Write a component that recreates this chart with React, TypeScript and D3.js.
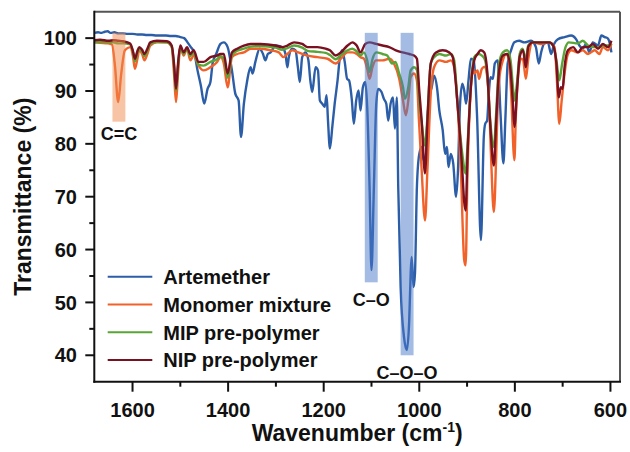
import React from 'react';
import * as d3 from 'd3';

// ---------- data ----------
const seriesNames = ['Artemether', 'Monomer mixture', 'MIP pre-polymer', 'NIP pre-polymer'];
const seriesColors = ['#2c5ea8', '#f0622a', '#5aa537', '#7a1020'];

const artemether: [number, number][] = [
  [1680,101.0],[1672,101.1],[1665,101.0],[1658,101.2],[1652,101.3],[1646,101.0],[1638,101.1],[1630,100.9],[1620,100.9],[1610,100.8],[1600,100.8],[1590,100.7],[1580,100.7],[1570,100.6],[1560,100.6],[1550,100.5],[1540,100.5],[1530,100.5],[1520,100.4],[1510,100.4],[1500,100.2],[1492,100.0],[1485,99.2],[1478,98.3],[1471,97.3],[1464,93.9],[1457,91.0],[1450,87.6],[1443,90.4],[1437,91.7],[1432,95.5],[1425,97.0],[1416,98.9],[1409,99.2],[1401,98.3],[1392,93.9],[1385,89.5],[1378,88.2],[1373,81.3],[1367,87.6],[1360,92.0],[1353,94.5],[1349,93.3],[1343,95.5],[1334,98.0],[1327,97.0],[1322,95.8],[1317,97.0],[1311,97.3],[1301,98.6],[1287,98.3],[1280,97.0],[1276,94.5],[1273,96.4],[1266,98.0],[1259,97.7],[1254,94.5],[1250,91.7],[1245,96.4],[1238,97.3],[1232,95.8],[1228,92.0],[1224,89.8],[1217,94.5],[1212,93.9],[1208,88.2],[1203,87.6],[1198,87.0],[1194,89.2],[1191,84.4],[1187,79.1],[1182,83.2],[1177,87.6],[1171,92.0],[1166,96.4],[1161,97.7],[1156,95.5],[1151,92.3],[1147,92.0],[1141,88.2],[1137,83.8],[1132,88.2],[1127,90.1],[1123,86.3],[1118,90.7],[1113,91.7],[1109,87.0],[1104,71.8],[1100,56.1],[1095,71.8],[1090,87.6],[1086,90.4],[1079,89.8],[1074,88.5],[1069,87.6],[1065,84.4],[1060,87.6],[1055,88.8],[1051,82.9],[1047,88.8],[1044,71.8],[1039,52.9],[1032,43.5],[1026,41.0],[1021,46.7],[1018,55.5],[1016,58.6],[1012,52.9],[1009,55.5],[1005,71.8],[1000,78.1],[995,79.4],[991,76.9],[986,78.1],[983,84.4],[979,88.8],[974,90.7],[969,92.9],[963,90.7],[958,86.3],[951,82.6],[946,78.1],[942,79.4],[939,75.6],[934,78.1],[929,76.3],[923,70.0],[919,75.0],[915,87.0],[910,91.4],[906,90.1],[902,87.6],[897,92.0],[892,96.1],[886,95.8],[879,85.0],[871,61.8],[865,81.3],[862,83.8],[858,84.4],[855,88.8],[851,92.6],[846,92.3],[842,95.2],[836,95.8],[830,85.7],[824,76.3],[820,84.4],[815,95.2],[808,97.7],[801,99.2],[791,99.5],[780,99.2],[766,99.5],[756,98.3],[750,95.2],[745,97.3],[739,98.9],[731,99.2],[724,97.0],[718,98.9],[710,99.8],[696,100.2],[682,100.5],[672,99.8],[665,98.6],[658,98.0],[651,98.9],[644,97.3],[637,99.2],[626,98.6],[619,100.5],[612,100.2],[606,100.0],[601,98.9],[598,97.3]
];

const monomer: [number, number][] = [
  [1680,99.2],[1668,99.1],[1651,99.0],[1643,98.8],[1637,95.0],[1630,87.9],[1624,93.0],[1616,97.7],[1605,98.3],[1599,96.5],[1595,94.2],[1590,96.0],[1586,97.7],[1580,97.0],[1575,95.8],[1569,97.0],[1563,98.6],[1549,99.2],[1528,99.2],[1518,98.3],[1513,93.0],[1509,87.9],[1505,93.0],[1500,98.3],[1493,96.7],[1486,98.0],[1479,95.8],[1472,96.7],[1462,94.8],[1451,93.9],[1437,94.5],[1423,95.5],[1416,96.4],[1409,95.2],[1401,90.7],[1392,96.4],[1381,97.0],[1367,97.3],[1353,98.0],[1332,98.0],[1311,97.7],[1294,97.3],[1284,96.4],[1276,97.0],[1266,97.7],[1253,97.3],[1234,96.7],[1213,96.4],[1192,96.1],[1175,95.2],[1164,96.1],[1150,97.3],[1140,97.3],[1131,97.0],[1123,96.4],[1116,96.1],[1109,94.2],[1104,92.3],[1098,94.5],[1091,95.8],[1077,95.8],[1063,96.1],[1053,95.2],[1042,92.3],[1034,88.2],[1028,85.4],[1023,88.2],[1018,92.6],[1011,93.3],[1005,92.0],[1001,85.0],[995,75.0],[988,65.5],[983,75.0],[976,89.5],[969,94.5],[958,95.8],[944,95.5],[934,95.8],[927,94.5],[920,87.6],[913,75.0],[906,58.0],[903,57.0],[899,75.0],[894,87.6],[888,94.5],[885,93.3],[878,93.9],[875,92.3],[869,94.2],[863,94.6],[855,90.0],[850,78.0],[844,67.1],[839,78.0],[837,84.4],[833,92.0],[825,95.8],[818,97.0],[813,96.0],[808,90.0],[801,76.9],[798,85.0],[794,92.0],[787,96.1],[783,96.0],[777,92.3],[772,96.0],[763,99.2],[745,98.9],[728,99.2],[717,98.3],[712,92.0],[707,83.8],[702,88.2],[696,93.3],[689,97.0],[682,97.7],[668,97.3],[658,97.7],[647,97.0],[633,97.7],[623,97.0],[616,98.3],[605,97.7],[598,98.9]
];

const mip: [number, number][] = [
  [1680,99.2],[1660,99.3],[1640,99.2],[1630,99.0],[1620,99.0],[1605,98.8],[1599,97.3],[1595,95.6],[1590,97.2],[1586,98.0],[1580,97.5],[1575,96.6],[1569,97.6],[1563,98.9],[1549,99.3],[1528,99.2],[1518,98.4],[1513,94.5],[1509,90.0],[1505,94.5],[1500,98.4],[1493,97.0],[1486,98.0],[1479,96.6],[1472,97.3],[1462,95.0],[1451,94.8],[1437,95.5],[1423,96.0],[1416,96.6],[1409,96.2],[1401,92.5],[1392,96.8],[1381,97.6],[1367,98.0],[1353,98.4],[1332,98.5],[1301,98.2],[1287,97.8],[1276,98.1],[1262,98.6],[1245,98.2],[1234,97.6],[1213,97.4],[1196,97.2],[1187,96.8],[1175,96.0],[1164,96.8],[1150,97.7],[1140,98.0],[1131,97.5],[1123,96.7],[1116,97.3],[1109,95.8],[1104,93.6],[1098,96.0],[1090,97.3],[1077,97.0],[1067,96.7],[1057,95.2],[1050,95.5],[1042,93.3],[1034,90.7],[1030,88.5],[1023,90.7],[1018,93.9],[1011,94.5],[1005,94.0],[1000,88.0],[995,84.0],[988,79.7],[983,85.0],[976,95.2],[969,96.4],[958,97.0],[944,96.7],[934,97.0],[927,95.8],[920,87.6],[910,78.1],[903,74.4],[899,80.0],[892,91.0],[885,96.4],[876,97.0],[869,96.7],[863,96.0],[858,93.3],[852,85.0],[844,79.4],[839,86.0],[833,95.2],[825,97.3],[816,97.7],[809,95.8],[804,90.7],[801,88.2],[795,92.0],[790,97.0],[784,98.0],[777,96.0],[772,98.6],[763,99.2],[745,99.2],[728,99.2],[720,98.6],[713,95.8],[707,92.0],[701,95.2],[694,98.3],[687,99.2],[668,99.0],[658,99.5],[647,98.6],[637,98.3],[626,98.3],[616,98.6],[605,98.6],[598,99.0]
];

const nip: [number, number][] = [
  [1680,99.6],[1668,99.7],[1650,99.5],[1640,99.6],[1630,99.5],[1620,99.4],[1605,99.0],[1599,97.5],[1595,96.1],[1590,97.5],[1586,98.3],[1580,97.8],[1575,97.0],[1569,98.0],[1563,99.2],[1549,99.5],[1528,99.4],[1518,98.6],[1513,95.0],[1509,90.4],[1505,95.0],[1500,98.6],[1493,97.3],[1486,98.3],[1479,97.0],[1472,97.7],[1462,95.5],[1451,95.5],[1437,96.4],[1423,96.7],[1416,97.0],[1409,97.0],[1401,93.3],[1392,97.3],[1381,98.0],[1367,98.6],[1353,98.9],[1332,98.9],[1301,98.6],[1287,98.3],[1276,98.6],[1262,99.2],[1245,98.9],[1234,98.3],[1213,98.3],[1196,98.0],[1187,97.7],[1175,96.7],[1164,97.3],[1150,98.6],[1140,99.2],[1131,98.6],[1123,97.3],[1113,98.9],[1104,99.2],[1090,98.9],[1077,98.6],[1063,98.3],[1049,97.7],[1035,97.3],[1021,97.0],[1011,96.7],[1005,96.1],[1000,90.0],[995,84.4],[988,74.4],[983,84.4],[976,95.2],[965,97.3],[951,97.7],[937,97.3],[930,96.4],[920,87.6],[910,75.0],[906,69.0],[903,67.4],[899,78.1],[892,90.7],[885,95.8],[878,97.0],[871,97.7],[864,97.3],[858,93.9],[852,84.4],[844,75.9],[839,84.4],[833,93.9],[825,96.7],[816,97.0],[809,93.9],[804,87.6],[801,83.2],[795,90.7],[790,96.4],[783,97.7],[777,94.5],[772,98.3],[763,99.2],[745,99.2],[728,99.2],[720,98.6],[713,95.2],[708,88.8],[704,90.7],[700,90.4],[696,94.5],[689,97.7],[678,98.3],[668,97.3],[658,98.3],[647,98.3],[637,98.9],[626,98.0],[616,98.9],[605,98.3],[598,99.5]
];

const seriesData = [artemether, monomer, mip, nip];

const xMajorTicks = [1600, 1400, 1200, 1000, 800, 600];
const xMinorTicks = [1500, 1300, 1100, 900, 700];
const yMajorTicks = [40, 50, 60, 70, 80, 90, 100];
const yMinorTicks = [45, 55, 65, 75, 85, 95];

// highlight bands: [wnFrom, wnTo, tBottom, tTop]
const bandRanges: [number, number, number, number][] = [
  [1642, 1615, 84.2, 101],
  [1114, 1087, 53.8, 101],
  [1039, 1012, 40.0, 101],
];
const bandColors = ['#f08a4b', '#4a78c8', '#4a78c8'];
const bandLabels = ['C=C', 'C–O', 'C–O–O'];
const bandLabelPos: [number, number][] = [[1628.5, 80.7], [1100.5, 49.3], [1025.5, 35.6]];

// ---------- layout ----------
const W = 630, H = 452;
const L = 94.3, R = 620, T = 11.7, B = 381.7;
const FONT = "'Liberation Sans', Arial, Helvetica, sans-serif";

export default function App() {
  const x = d3.scaleLinear().domain([1680, 580]).range([L, R]);
  const y = d3.scaleLinear().domain([35, 105]).range([B, T]);
  const line = d3.line<[number, number]>()
    .x(d => x(d[0]))
    .y(d => y(d[1]))
    .curve(d3.curveMonotoneX);

  return (
    <svg width={W} height={H} style={{ position: 'absolute', left: 0, top: 0, background: '#fff' }}
      fontFamily={FONT} fontWeight="bold">
      <defs>
        <clipPath id="plot">
          <rect x={L} y={T} width={R - L} height={B - T} />
        </clipPath>
      </defs>
      <rect x={0} y={0} width={W} height={H} fill="#fff" />

      {/* spectra */}
      <g clipPath="url(#plot)" fill="none" strokeWidth={2.4} strokeLinejoin="round">
        {seriesData.map((d, i) => (
          <path key={i} d={line(d) || ''} stroke={seriesColors[i]} />
        ))}
      </g>

      {/* highlight bands */}
      {bandRanges.map((b, i) => (
        <rect key={i} x={x(b[0])} y={y(b[3])} width={x(b[1]) - x(b[0])} height={y(b[2]) - y(b[3])}
          fill={bandColors[i]} opacity={0.5} />
      ))}
      {bandLabels.map((t, i) => (
        <text key={i} x={x(bandLabelPos[i][0])} y={y(bandLabelPos[i][1])} fontSize={18}
          textAnchor="middle" fill="#111">{t}</text>
      ))}

      {/* frame */}
      <line x1={L} x2={R} y1={T} y2={T} stroke="#555" strokeWidth={2} />
      <line x1={R} x2={R} y1={T} y2={B} stroke="#555" strokeWidth={2} />
      <line x1={L} x2={L} y1={T - 1} y2={B + 1} stroke="#111" strokeWidth={2} />
      <line x1={L - 1} x2={R + 1} y1={B} y2={B} stroke="#111" strokeWidth={2} />

      {/* y ticks */}
      {yMajorTicks.map(v => (
        <g key={v}>
          <line x1={L - 9} x2={L} y1={y(v)} y2={y(v)} stroke="#111" strokeWidth={2} />
          <text x={77} y={y(v)} dy="0.36em" textAnchor="end" fontSize={20} fill="#111">{v}</text>
        </g>
      ))}
      {yMinorTicks.map(v => (
        <line key={v} x1={L - 5} x2={L} y1={y(v)} y2={y(v)} stroke="#111" strokeWidth={2} />
      ))}

      {/* x ticks */}
      {xMajorTicks.map(v => (
        <g key={v}>
          <line x1={x(v)} x2={x(v)} y1={B} y2={B + 10} stroke="#111" strokeWidth={2} />
          <text x={x(v)} y={417} textAnchor="middle" fontSize={20} fill="#111">{v}</text>
        </g>
      ))}
      {xMinorTicks.map(v => (
        <line key={v} x1={x(v)} x2={x(v)} y1={B} y2={B + 5} stroke="#111" strokeWidth={2} />
      ))}

      {/* axis titles */}
      <text transform={`translate(22.5,${(T + B) / 2}) rotate(-90)`} dy="0.36em" textAnchor="middle"
        fontSize={23} fill="#111">Transmittance (%)</text>
      <text x={(L + R) / 2} y={441} textAnchor="middle" fontSize={23} fill="#111">
        <tspan>Wavenumber (cm</tspan>
        <tspan dy={-9} fontSize={14}>-1</tspan>
        <tspan dy={9}>)</tspan>
      </text>

      {/* legend */}
      {seriesNames.map((n, i) => (
        <g key={n} transform={`translate(0,${276.7 + i * 27.8})`}>
          <line x1={107.7} x2={152.3} y1={0} y2={0} stroke={seriesColors[i]} strokeWidth={2} />
          <text x={163.3} y={0} dy="0.36em" fontSize={20} fill="#111">{n}</text>
        </g>
      ))}
    </svg>
  );
}
